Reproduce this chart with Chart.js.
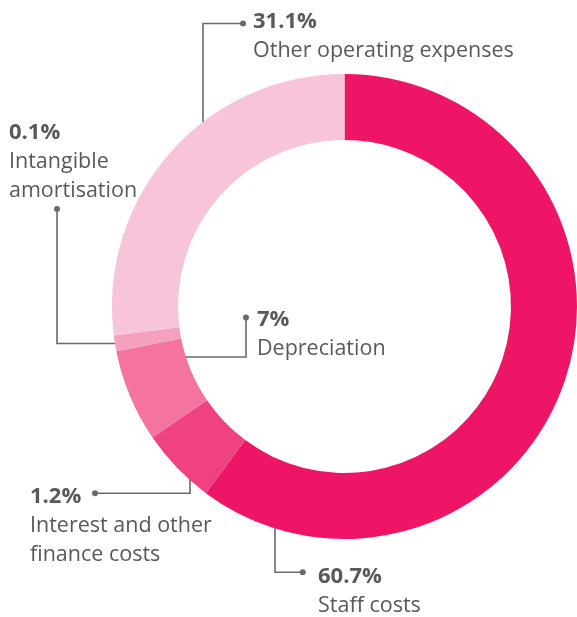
<!DOCTYPE html>
<html>
<head>
<meta charset="utf-8">
<script src="https://cdn.jsdelivr.net/npm/chart.js@4"></script>
<style>
  html, body { margin: 0; padding: 0; background: #ffffff; }
  #wrap { position: relative; width: 577px; height: 617px; }
</style>
</head>
<body>
<div id="wrap"><canvas id="c"></canvas></div>
<script>
// ---- data ----
const categories = ["Staff costs", "Interest and other finance costs", "Depreciation", "Intangible amortisation", "Other operating expenses"];
// arc sizes as drawn in the picture (percent of the ring)
const values = [60.2, 5.3, 6.45, 1.1, 27.0];
// percentages printed beside each slice
const pctLabels = ["60.7%", "1.2%", "7%", "0.1%", "31.1%"];
// label text lines
const nameLines = [["Staff costs"], ["Interest and other", "finance costs"], ["Depreciation"], ["Intangible", "amortisation"], ["Other operating expenses"]];
const colors = ["#EE1566", "#F04282", "#F4739F", "#F6A0C0", "#F8C4D9"];

// ---- annotation layout (label anchor positions) ----
const textColor = "#58595B";
const lineColor = "#6A6A6C";
const labelLayout = [
  { tx: 318, ty: 582.7, dot: [302.7, 572.3], path: [[275, 572.3]], endX: 275 },
  { tx: 30,  ty: 502.5, dot: [95, 493.3],    path: [[190, 493.3]], endX: 190 },
  { tx: 257, ty: 326,   dot: [246, 317.5],   path: [[246, 357]],   endY: 357, inner: true },
  { tx: 9,   ty: 138.5, dot: [57, 209],      path: [[57, 343.5]],  endY: 343.5 },
  { tx: 253, ty: 28,    dot: [243, 23.5],    path: [[203, 23.5]],  endX: 203, top: true }
];

const leaderPlugin = {
  id: 'leaders',
  beforeDatasetsDraw(chart) {
    const arc = chart.getDatasetMeta(0).data[0];
    const cx = arc.x, cy = arc.y;
    const rm = (arc.outerRadius + arc.innerRadius) / 2;
    const ctx = chart.ctx;
    ctx.save();
    ctx.strokeStyle = lineColor;
    ctx.lineWidth = 1.6;
    labelLayout.forEach((L, i) => {
      const pts = [L.dot, ...L.path];
      let end;
      if (L.endX !== undefined) {
        const dx = L.endX - cx;
        const dy = Math.sqrt(Math.max(rm * rm - dx * dx, 0));
        end = [L.endX, L.top ? cy - dy : cy + dy];
      } else {
        const dy = L.endY - cy;
        const dx = Math.sqrt(Math.max(rm * rm - dy * dy, 0));
        end = [cx - dx, L.endY];
      }
      pts.push(end);
      ctx.beginPath();
      ctx.moveTo(pts[0][0], pts[0][1]);
      for (let k = 1; k < pts.length; k++) ctx.lineTo(pts[k][0], pts[k][1]);
      ctx.stroke();
      ctx.fillStyle = lineColor;
      ctx.beginPath();
      ctx.arc(L.dot[0], L.dot[1], 3, 0, Math.PI * 2);
      ctx.fill();
    });
    ctx.restore();
  },
  afterDatasetsDraw(chart) {
    const ctx = chart.ctx;
    ctx.save();
    ctx.fillStyle = textColor;
    ctx.textAlign = 'left';
    ctx.textBaseline = 'alphabetic';
    labelLayout.forEach((L, i) => {
      ctx.font = "bold 22px 'Open Sans'";
      ctx.fillText(pctLabels[i], L.tx, L.ty);
      ctx.font = "21.5px 'Open Sans'";
      nameLines[i].forEach((t, j) => ctx.fillText(t, L.tx, L.ty + 29 * (j + 1)));
    });
    ctx.restore();
  }
};

new Chart(document.getElementById('c'), {
  type: 'doughnut',
  data: {
    labels: categories,
    datasets: [{
      data: values,
      backgroundColor: colors,
      borderWidth: 0,
      hoverOffset: 0
    }]
  },
  options: {
    responsive: true,
    maintainAspectRatio: false,
    animation: false,
    cutout: '71.6%',
    rotation: 0,
    layout: { padding: { left: 112, right: 0, top: 74, bottom: 78 } },
    plugins: {
      legend: { display: false },
      tooltip: { enabled: false }
    }
  },
  plugins: [leaderPlugin]
});
</script>
</body>
</html>
